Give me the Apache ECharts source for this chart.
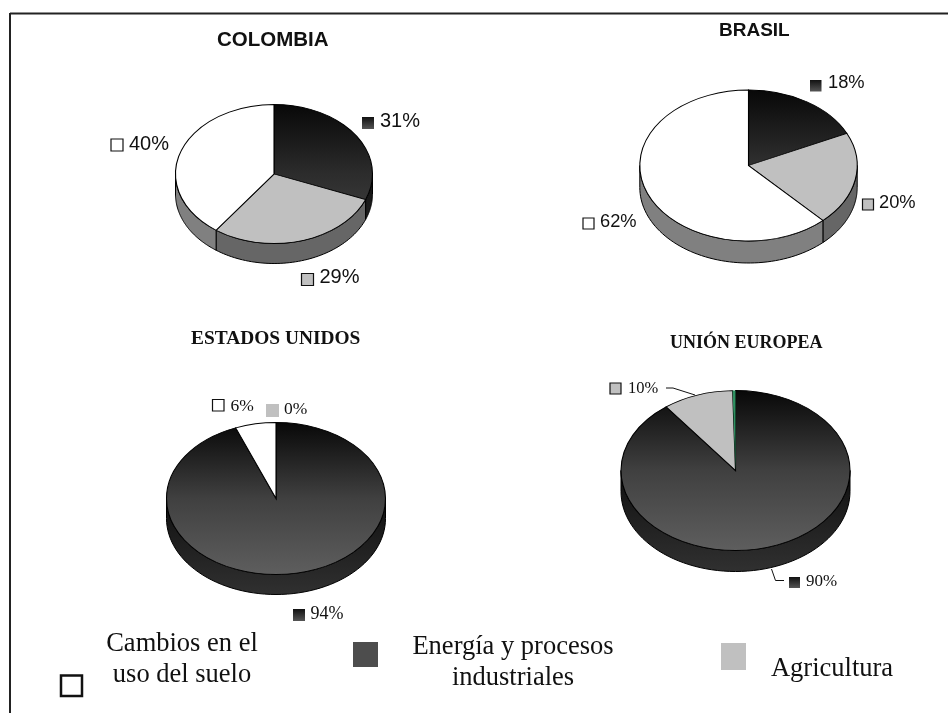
<!DOCTYPE html>
<html style="height: 100%">
<head>
<meta charset="utf-8">
<style>html,body{margin:0;height:100%;background:#fff}#container{width:948px;height:713px}</style>
</head>
<body>
<div id="container"></div>
<script src="https://cdn.jsdelivr.net/npm/echarts@6/dist/echarts.min.js"></script>
<script>
// order of slices, clockwise from 12 o'clock
var categories = ['Energía y procesos industriales', 'Agricultura', 'Cambios en el uso del suelo'];
var countries = ['COLOMBIA', 'BRASIL', 'ESTADOS UNIDOS', 'UNIÓN EUROPEA'];
var colombia = [31, 29, 40];
var brasil = [18, 20, 62];
var estadosUnidos = [94, 0, 6];
var unionEuropea = [90, 10, 0.4];
var values = [colombia, brasil, estadosUnidos, unionEuropea];

// layout only
var pies = [
  {cx: 274, cy: 174, rx: 98.5, ry: 69.5, depth: 20, mid: '#2c2c2c', end: '#464646'},
  {cx: 748.5, cy: 165.5, rx: 108.7, ry: 75.5, depth: 22, mid: '#303030', end: '#565656'},
  {cx: 276, cy: 498.5, rx: 109.5, ry: 76, depth: 20, mid: '#404040', end: '#5e5e5e'},
  {cx: 735.5, cy: 470.5, rx: 114.5, ry: 80, depth: 21, mid: '#404040', end: '#5e5e5e'}
];
var sans = '"Liberation Sans", Arial, sans-serif';
var serif = '"Liberation Serif", "Times New Roman", serif';
var titles = [
  {left: 217, top: 30, font: sans, size: 20.5},
  {left: 719, top: 21, font: sans, size: 19},
  {left: 191, top: 329, font: serif, size: 19.4},
  {left: 670, top: 334, font: serif, size: 18}
];
// marker x, marker y, marker size, text x, text y, font size; one row per slice
var labelPos = [
  [[362, 117, 12, 380, 121, 20], [301.5, 273.5, 12, 319.5, 277, 20], [111, 139, 12, 129, 144, 20]],
  [[810, 80, 11.5, 828, 83, 18.3], [862.5, 199, 11, 879, 203, 18.3], [583, 218, 11, 600, 222, 18.3]],
  [[293, 609, 12, 310.5, 614, 18], [266, 404, 13, 284, 409, 17.5], [212.5, 399.5, 11.5, 230.5, 406, 17.5]],
  [[789, 577, 11, 806, 582, 17], [610, 383, 11, 628, 389, 16.5], null]
];
var leaders = [
  [[666, 388], [673, 388], [695, 395]],
  [[771.5, 569], [775.5, 580.5], [784, 580.5]]
];
var legendBoxes = [
  {x: 353, y: 642, w: 25, h: 25, fill: '#4d4d4d', lines: ['Energía y procesos', 'industriales'], tx: 513, ty: [647, 678]},
  {x: 721, y: 643, w: 25, h: 27, fill: '#c0c0c0', lines: ['Agricultura'], tx: 832, ty: [669]},
  {x: 61, y: 675.5, w: 21, h: 20.5, fill: '#fff', stroke: '#111', lines: ['Cambios en el', 'uso del suelo'], tx: 182, ty: [644, 675]}
];

function sliceTop(p, c) {
  // gradient runs over the whole disc, in the sector's own unscaled space
  if (c === 0) return {type: 'linear', global: true, x: 0, y: -p.rx, x2: 0, y2: p.rx,
    colorStops: [{offset: 0, color: '#080808'}, {offset: 0.5, color: p.mid}, {offset: 1, color: p.end}]};
  return c === 1 ? '#c0c0c0' : '#ffffff';
}
function sliceWall(p, c) {
  if (c === 0) return {type: 'linear', global: true, x: 0, y: p.cy, x2: 0, y2: p.cy + p.ry + p.depth,
    colorStops: [{offset: 0, color: '#101010'}, {offset: 1, color: '#303030'}]};
  return c === 1 ? '#666666' : '#808080';
}

function pieSeries(vals, idx) {
  var p = pies[idx];
  var total = vals.reduce(function (a, b) { return a + b; }, 0);
  return {
    type: 'custom',
    name: countries[idx],
    coordinateSystem: 'none',
    silent: true,
    animation: false,
    data: vals,
    renderItem: function (params, api) {
      var c = params.dataIndex;
      var before = 0;
      for (var i = 0; i < c; i++) before += vals[i];
      var a0 = before / total * 2 * Math.PI;
      var a1 = (before + api.value(0)) / total * 2 * Math.PI;
      if (a1 <= a0) return null;
      var children = [];
      // side wall: only the part of the rim facing the viewer
      var w0 = Math.max(a0, Math.PI / 2), w1 = Math.min(a1, 1.5 * Math.PI);
      if (w1 > w0) {
        var top = [], bottom = [];
        for (var k = 0; k <= 60; k++) {
          var a = w0 + (w1 - w0) * k / 60;
          var x = p.cx + p.rx * Math.sin(a), y = p.cy - p.ry * Math.cos(a);
          top.push([x, y]);
          bottom.unshift([x, y + p.depth]);
        }
        children.push({type: 'polygon', shape: {points: top.concat(bottom)},
          style: {fill: sliceWall(p, c), stroke: '#000', lineWidth: 1}});
      }
      // the thin sliver in the EU pie is green in the original
      var sliver = api.value(0) < 1;
      children.push({
        type: 'sector',
        x: p.cx, y: p.cy, scaleX: 1, scaleY: p.ry / p.rx,
        shape: {cx: 0, cy: 0, r0: 0, r: p.rx, clockwise: true,
          startAngle: a0 - Math.PI / 2, endAngle: a1 - Math.PI / 2},
        style: sliver ? {fill: '#2e9060'} : {fill: sliceTop(p, c), stroke: '#000', lineWidth: 1.1}
      });
      return {type: 'group', children: children};
    }
  };
}

var graphics = [
  {type: 'line', shape: {x1: 10, y1: 13.5, x2: 948, y2: 13.5}, style: {stroke: '#222', lineWidth: 2}},
  {type: 'line', shape: {x1: 10, y1: 13, x2: 10, y2: 713}, style: {stroke: '#222', lineWidth: 2}}
];
values.forEach(function (vals, i) {
  var total = vals.reduce(function (a, b) { return a + b; }, 0);
  vals.forEach(function (v, c) {
    var l = labelPos[i][c];
    if (!l) return;
    var fill = c === 0 ? {type: 'linear', x: 0, y: 0, x2: 0, y2: 1,
      colorStops: [{offset: 0, color: '#111'}, {offset: 1, color: '#555'}]} : (c === 1 ? '#c0c0c0' : '#fff');
    var noBorder = i === 2 && c === 1;
    graphics.push({type: 'rect', shape: {x: l[0], y: l[1], width: l[2], height: l[2]},
      style: {fill: fill, stroke: noBorder || c === 0 ? null : '#111', lineWidth: 1.2}});
    graphics.push({type: 'text', x: l[3], y: l[4], style: {text: Math.round(v / total * 100) + '%',
      font: l[5] + 'px ' + (i < 2 ? sans : serif), fill: '#111', verticalAlign: 'middle'}});
  });
});
leaders.forEach(function (pts) {
  graphics.push({type: 'polyline', shape: {points: pts}, style: {stroke: '#111', lineWidth: 1, fill: null}});
});
legendBoxes.forEach(function (b) {
  graphics.push({type: 'rect', shape: {x: b.x, y: b.y, width: b.w, height: b.h},
    style: {fill: b.fill, stroke: b.stroke || null, lineWidth: 2.5}});
  b.lines.forEach(function (t, n) {
    graphics.push({type: 'text', x: b.tx, y: b.ty[n], style: {text: t, font: '26.5px ' + serif,
      fill: '#111', align: 'center', verticalAlign: 'middle'}});
  });
});

var myChart = echarts.init(document.getElementById('container'));
myChart.setOption({
  animation: false,
  title: titles.map(function (t, i) {
    return {text: countries[i], left: t.left, top: t.top, padding: 0,
      textStyle: {fontFamily: t.font, fontSize: t.size, fontWeight: 'bold', color: '#111'}};
  }),
  series: values.map(pieSeries),
  graphic: {elements: graphics}
});
</script>
</body>
</html>
